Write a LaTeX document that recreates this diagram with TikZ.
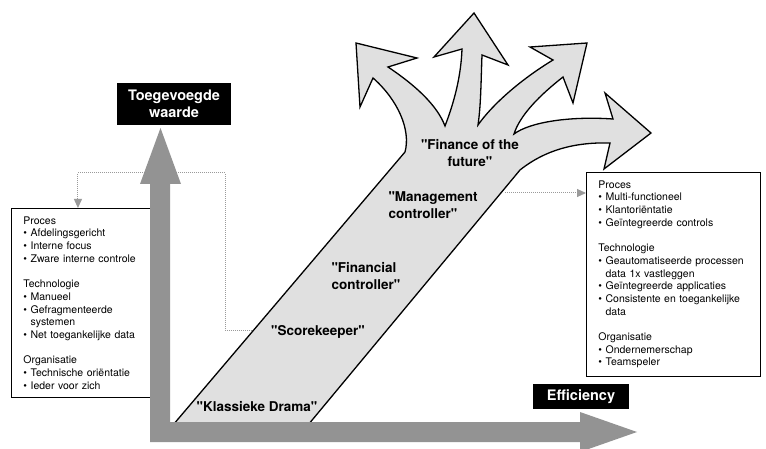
\documentclass[tikz,border=0pt]{standalone}
\usepackage{fontspec}
\setmainfont{TeX Gyre Heros}[Ligatures=TeXOff]
\usetikzlibrary{arrows.meta}
\definecolor{axisgray}{HTML}{939393}
\definecolor{bandgray}{HTML}{E0E0E0}
\definecolor{dotgray}{HTML}{9A9A9A}
\newcommand{\bitem}{\textbullet\ }
\newcommand{\bcont}{\hphantom{\textbullet\ }}
\begin{document}
\begin{tikzpicture}[x=1pt,y=-1pt,
    listbox/.style={draw,line width=0.9pt,anchor=north west,align=left,
      font=\fontsize{10.5}{12.7}\selectfont,inner xsep=12pt,inner ysep=8pt},
    axislabel/.style={fill=black,text=white,align=center,inner sep=0pt,
      font=\fontsize{14.5}{17}\selectfont\bfseries},
    stage/.style={font=\fontsize{13.5}{17}\selectfont\bfseries},
    link/.style={dotgray,densely dotted,line width=1pt,
      -{Triangle[length=9pt,width=8pt]}}]
  \useasboundingbox (0,0) rectangle (766,449);

  % the two lists
  \node (procL) [listbox,text width=123pt] at (11,208) {Proces\\
    \bitem Afdelingsgericht\\ \bitem Interne focus\\ \bitem Zware interne controle\\[12.7pt]
    Technologie\\ \bitem Manueel\\ \bitem Gefragmenteerde\\ \bcont systemen\\
    \bitem Net toegankelijke data\\[12.7pt]
    Organisatie\\ \bitem Technische oriëntatie\\ \bitem Ieder voor zich};
  \node (procR) [listbox,text width=150pt] at (586,172) {Proces\\
    \bitem Multi-functioneel\\ \bitem Klantoriëntatie\\ \bitem Geïntegreerde controls\\[12.7pt]
    Technologie\\ \bitem Geautomatiseerde processen\\ \bcont data 1x vastleggen\\
    \bitem Geïntegreerde applicaties\\ \bitem Consistente en toegankelijke\\ \bcont data\\[12.7pt]
    Organisatie\\ \bitem Ondernemerschap\\ \bitem Teamspeler};

  % the band with the four arrows
  \filldraw[fill=bandgray,line width=1.3pt,line join=miter]
    (173,425) -- (405,152) .. controls (411,130) and (398,100) .. (373,78)
    -- (360,107) -- (356,43) -- (417,58) -- (388,67)
    .. controls (415,85) and (437,105) .. (445,126)
    .. controls (455,100) and (461,75) .. (462,49)
    -- (434,57) -- (474,13) -- (508,65) -- (482,55)
    .. controls (481,80) and (481,105) .. (478,125)
    .. controls (492,105) and (520,80) .. (553,60)
    -- (530,47) -- (587,43) -- (573,103) -- (563,77)
    .. controls (540,95) and (520,115) .. (514,134)
    .. controls (530,122) and (570,116) .. (613,119)
    -- (605,93) -- (651,133) -- (604,169) -- (610,143)
    .. controls (575,142) and (545,150) .. (520,170)
    -- (308,425) -- cycle;

  \coordinate (skEdge) at (252,330);
  \coordinate (mcEdge) at (505,193);
  \draw[link] (skEdge) -| (225,173) -| ([xshift=-7pt]procL.north);
  \draw[link] (mcEdge) -- (procR.west |- mcEdge);

  % axes
  \fill[axisgray] (150,184) -- (140,184) -- (160.5,128) -- (181,184) -- (170,184)
    -- (170,422) -- (580,422) -- (580,412) -- (637,432) -- (580,452)
    -- (580,442) -- (150,442) -- cycle;

  \node (tw) [axislabel,minimum width=114pt,minimum height=42pt] at (174,104)
    {Toegevoegde\\waarde};
  \node (eff) [axislabel,minimum width=96pt,minimum height=25pt] at (581,396.5)
    {Efficiency};

  \node (kd) [stage] at (257,407) {"Klassieke Drama"};
  \node (sk) [stage] at (318,332) {"Scorekeeper"};
  \node (fc) [stage,anchor=west,align=left] at (328,276) {"Financial\\controller"};
  \node (mc) [stage,anchor=west,align=left] at (385,205) {"Management\\controller"};
  \node (ff) [stage,align=center] at (470,153) {"Finance of the\\future"};
\end{tikzpicture}
\end{document}
